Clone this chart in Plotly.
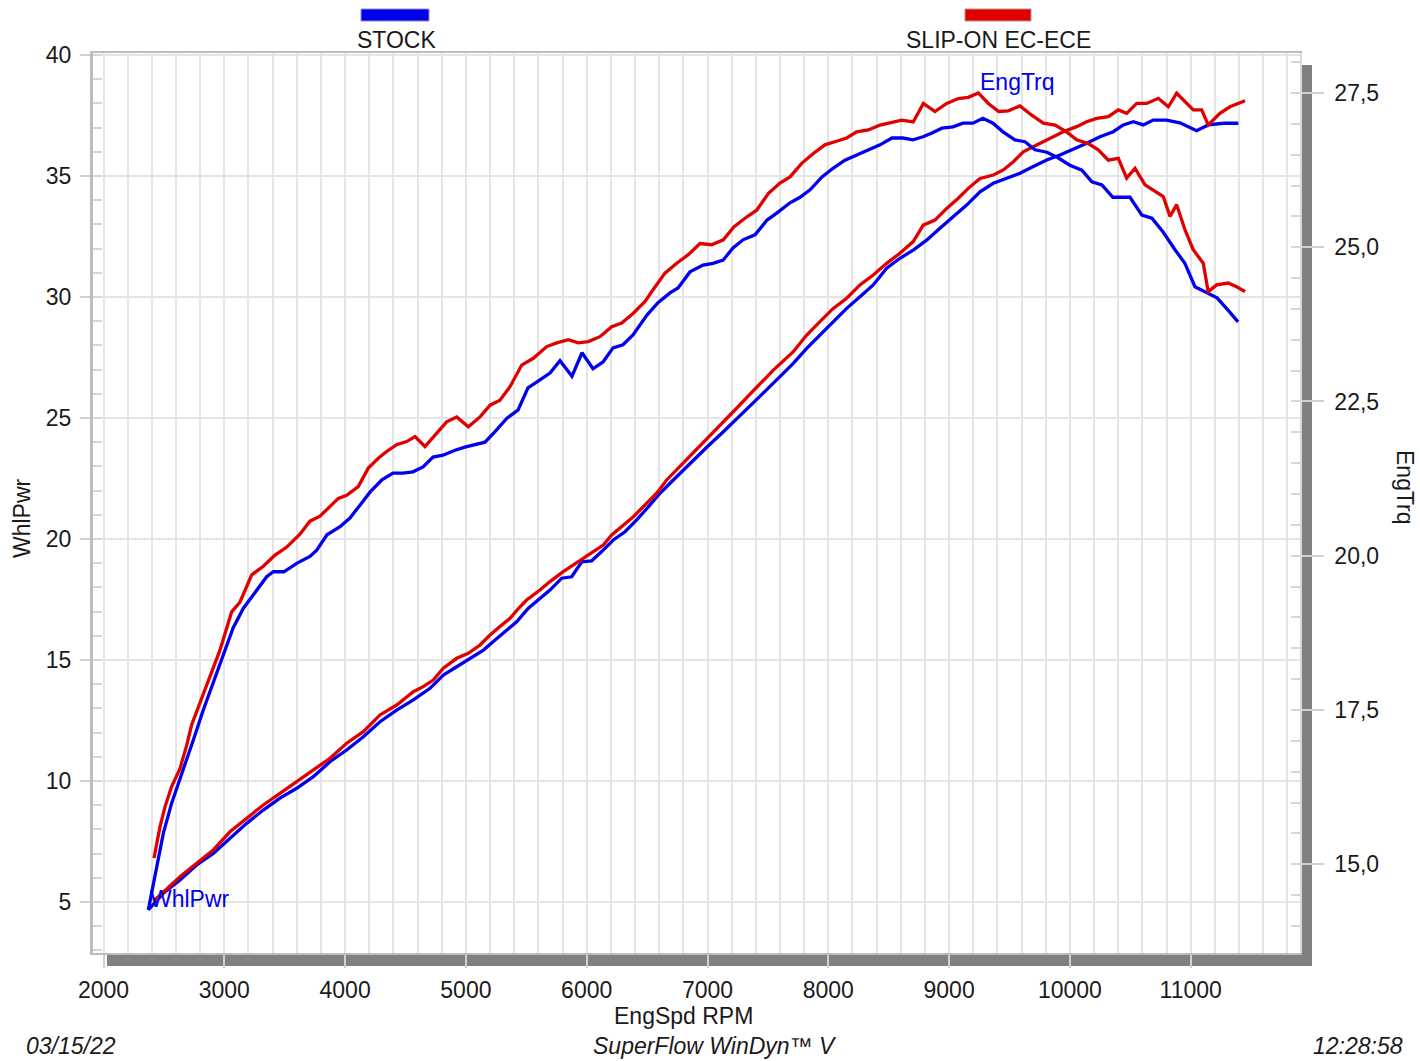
import plotly.graph_objects as go

# ---------------- data ----------------
RPM_TRQ_STOCK = [2371, 2440, 2495, 2564, 2633, 2689, 2743, 2826, 2909, 2990, 3073, 3158, 3240, 3351, 3406, 3493,
                 3603, 3709, 3765, 3850, 3958, 4040, 4123, 4206, 4305, 4396, 4479, 4562, 4645, 4728, 4810, 4910,
                 4992, 5075, 5158, 5241, 5340, 5431, 5514, 5613, 5696, 5779, 5878, 5961, 6052, 6135, 6218, 6300,
                 6383, 6499, 6590, 6690, 6756, 6855, 6963, 7046, 7129, 7211, 7294, 7393, 7493, 7584, 7683, 7766,
                 7849, 7948, 8039, 8138, 8238, 8329, 8428, 8527, 8618, 8701, 8784, 8858, 8941, 9032, 9115, 9197,
                 9280, 9363, 9446, 9545, 9628, 9711, 9810, 9901, 10000, 10099, 10182, 10265, 10356, 10497, 10596,
                 10679, 10770, 10870, 10952, 11035, 11135, 11218, 11309, 11392]
TRQ_STOCK = [14.26, 14.96, 15.50, 15.99, 16.37, 16.69, 17.01, 17.50, 17.96, 18.39, 18.83, 19.15, 19.36, 19.66, 19.74, 19.74,
             19.88, 19.99, 20.09, 20.34, 20.47, 20.61, 20.82, 21.03, 21.23, 21.34, 21.34, 21.36, 21.44, 21.60, 21.63, 21.71,
             21.76, 21.80, 21.84, 22.01, 22.23, 22.36, 22.72, 22.85, 22.96, 23.16, 22.91, 23.29, 23.03, 23.14, 23.37, 23.42,
             23.58, 23.90, 24.10, 24.26, 24.34, 24.60, 24.71, 24.74, 24.79, 24.99, 25.12, 25.20, 25.44, 25.57, 25.72, 25.81,
             25.93, 26.14, 26.28, 26.41, 26.50, 26.58, 26.66, 26.77, 26.77, 26.74, 26.79, 26.85, 26.93, 26.95, 27.01, 27.01,
             27.09, 27.01, 26.87, 26.74, 26.71, 26.58, 26.54, 26.45, 26.33, 26.25, 26.06, 26.01, 25.81, 25.81, 25.52,
             25.47, 25.25, 24.96, 24.74, 24.36, 24.26, 24.18, 23.98, 23.79]

RPM_TRQ_SLIP = [2418, 2468, 2509, 2564, 2633, 2689, 2730, 2799, 2882, 2964, 3061, 3130, 3227, 3323, 3420, 3517,
                3626, 3709, 3792, 3861, 3944, 4013, 4109, 4192, 4275, 4344, 4427, 4510, 4579, 4661, 4744, 4841,
                4924, 5020, 5117, 5200, 5282, 5365, 5462, 5558, 5669, 5752, 5848, 5930, 6013, 6110, 6207, 6290,
                6386, 6483, 6549, 6648, 6745, 6841, 6938, 7034, 7131, 7218, 7310, 7407, 7503, 7600, 7683, 7780,
                7876, 7972, 8055, 8152, 8235, 8331, 8428, 8525, 8608, 8703, 8787, 8883, 8980, 9076, 9159, 9242,
                9325, 9411, 9490, 9587, 9684, 9780, 9877, 9973, 10056, 10152, 10235, 10318, 10401, 10470, 10539,
                10622, 10704, 10773, 10829, 10884, 10953, 11021, 11104, 11145, 11215, 11310, 11380, 11450]
TRQ_SLIP = [15.10, 15.61, 15.93, 16.26, 16.55, 16.93, 17.26, 17.61, 18.04, 18.47, 19.09, 19.25, 19.69, 19.83, 20.01, 20.14,
            20.35, 20.56, 20.64, 20.77, 20.93, 20.98, 21.12, 21.42, 21.58, 21.69, 21.80, 21.85, 21.93, 21.77, 21.96, 22.17,
            22.25, 22.09, 22.25, 22.44, 22.52, 22.74, 23.09, 23.20, 23.39, 23.45, 23.50, 23.45, 23.47, 23.55, 23.71, 23.77,
            23.93, 24.12, 24.31, 24.58, 24.74, 24.88, 25.06, 25.04, 25.12, 25.33, 25.47, 25.60, 25.87, 26.04, 26.14, 26.36,
            26.52, 26.66, 26.71, 26.77, 26.87, 26.90, 26.98, 27.03, 27.06, 27.03, 27.33, 27.20, 27.33, 27.41, 27.43, 27.50,
            27.33, 27.20, 27.21, 27.29, 27.14, 27.01, 26.98, 26.87, 26.74, 26.68, 26.58, 26.41, 26.44, 26.12, 26.28,
            26.01, 25.90, 25.82, 25.50, 25.69, 25.28, 24.96, 24.74, 24.28, 24.39, 24.42, 24.36, 24.28]

RPM_PWR_STOCK = [2371, 2495, 2633, 2771, 2909, 3047, 3185, 3323, 3461, 3599, 3737, 3875, 4013, 4151, 4289, 4427,
                 4565, 4703, 4813, 4924, 5034, 5145, 5227, 5310, 5420, 5517, 5613, 5696, 5793, 5876, 5959, 6041,
                 6124, 6220, 6317, 6414, 6510, 6607, 6717, 6855, 6996, 7129, 7269, 7410, 7600, 7710, 7821, 7931,
                 8041, 8152, 8262, 8372, 8483, 8593, 8703, 8814, 8924, 9039, 9145, 9256, 9366, 9477, 9587, 9697,
                 9808, 9918, 10028, 10139, 10249, 10359, 10442, 10525, 10607, 10690, 10801, 10911, 11049, 11145,
                 11270, 11394]
PWR_STOCK = [4.67, 5.36, 5.91, 6.53, 7.01, 7.63, 8.25, 8.80, 9.29, 9.70, 10.18, 10.80, 11.28, 11.83, 12.45, 12.93,
             13.35, 13.83, 14.38, 14.72, 15.07, 15.41, 15.76, 16.10, 16.58, 17.14, 17.55, 17.89, 18.38, 18.44, 19.06, 19.10,
             19.48, 19.96, 20.30, 20.79, 21.33, 21.89, 22.44, 23.12, 23.80, 24.42, 25.12, 25.78, 26.71, 27.26, 27.88, 28.43,
             28.98, 29.53, 30.01, 30.50, 31.19, 31.60, 31.94, 32.35, 32.84, 33.32, 33.80, 34.35, 34.70, 34.91, 35.11, 35.39,
             35.66, 35.87, 36.10, 36.35, 36.62, 36.83, 37.11, 37.24, 37.11, 37.31, 37.31, 37.20, 36.87, 37.11,
             37.18, 37.18]

RPM_PWR_SLIP = [2418, 2633, 2771, 2909, 3047, 3185, 3323, 3461, 3599, 3737, 3875, 4013, 4151, 4289, 4427, 4565,
                4647, 4730, 4813, 4924, 5020, 5117, 5200, 5282, 5365, 5448, 5503, 5613, 5696, 5806, 5889, 5972,
                6055, 6137, 6207, 6290, 6386, 6483, 6579, 6662, 6797, 6938, 7078, 7227, 7368, 7545, 7710, 7821,
                7931, 8041, 8152, 8262, 8372, 8483, 8593, 8703, 8786, 8883, 8980, 9076, 9159, 9256, 9366, 9449,
                9532, 9614, 9725, 9835, 9945, 10056, 10139, 10222, 10318, 10401, 10470, 10553, 10636, 10732,
                10815, 10884, 10967, 11021, 11091, 11145, 11242, 11325, 11450]
PWR_SLIP = [5.05, 6.04, 6.60, 7.15, 7.90, 8.46, 9.01, 9.49, 9.97, 10.45, 10.94, 11.56, 12.04, 12.73, 13.14, 13.69,
            13.90, 14.17, 14.66, 15.07, 15.28, 15.62, 16.03, 16.38, 16.72, 17.20, 17.48, 17.89, 18.24, 18.65, 18.93, 19.20,
            19.47, 19.75, 20.17, 20.51, 20.92, 21.41, 21.89, 22.44, 23.12, 23.84, 24.57, 25.33, 26.07, 26.98, 27.74, 28.43,
            28.98, 29.53, 29.95, 30.50, 30.91, 31.39, 31.81, 32.29, 32.97, 33.18, 33.66, 34.08, 34.49, 34.90, 35.04, 35.25,
            35.59, 36.00, 36.28, 36.56, 36.83, 37.04, 37.24, 37.38, 37.45, 37.73, 37.59, 38.00, 38.00, 38.21,
            37.86, 38.42, 38.00, 37.73, 37.73, 37.11, 37.59, 37.86, 38.11]

SERIES_NAMES = ["STOCK", "SLIP-ON EC-ECE"]
X_TICKS = [2000, 3000, 4000, 5000, 6000, 7000, 8000, 9000, 10000, 11000]
X_TICK_TEXT = ["2000", "3000", "4000", "5000", "6000", "7000", "8000", "9000", "10000", "11000"]
PWR_TICKS = [5, 10, 15, 20, 25, 30, 35, 40]
TRQ_TICKS = [15.0, 17.5, 20.0, 22.5, 25.0, 27.5]
TRQ_TICK_TEXT = ["15,0", "17,5", "20,0", "22,5", "25,0", "27,5"]

# ---------------- styling ----------------
BLUE = "#0000EE"
RED = "#E00000"
GRID = "#E5E5E5"
TICKC = "#D0D0D0"
FONT = "Liberation Sans, Arial, sans-serif"
TXT = "#1A1A1A"
FS = 23

W, H = 1420, 1061
L, R, T, B = 93, 1300, 53, 953


def px(x):
    return (x - L) / (R - L)


def py(y):
    return (B - y) / (B - T)


fig = go.Figure()
line_w = 3.3
fig.add_trace(go.Scatter(x=RPM_PWR_STOCK, y=PWR_STOCK, mode="lines", line=dict(color=BLUE, width=line_w),
                         name="WhlPwr " + SERIES_NAMES[0], yaxis="y"))
fig.add_trace(go.Scatter(x=RPM_PWR_SLIP, y=PWR_SLIP, mode="lines", line=dict(color=RED, width=line_w),
                         name="WhlPwr " + SERIES_NAMES[1], yaxis="y"))
fig.add_trace(go.Scatter(x=RPM_TRQ_STOCK, y=TRQ_STOCK, mode="lines", line=dict(color=BLUE, width=line_w),
                         name="EngTrq " + SERIES_NAMES[0], yaxis="y2"))
fig.add_trace(go.Scatter(x=RPM_TRQ_SLIP, y=TRQ_SLIP, mode="lines", line=dict(color=RED, width=line_w),
                         name="EngTrq " + SERIES_NAMES[1], yaxis="y2"))

tickfont = dict(family=FONT, size=FS, color=TXT)

shapes = [
    # 3D shadow bars (bottom and right)
    dict(type="rect", xref="paper", yref="paper", x0=px(107), x1=px(1312), y0=py(966), y1=py(953),
         fillcolor="#808080", line=dict(width=0), layer="below"),
    dict(type="rect", xref="paper", yref="paper", x0=px(1300), x1=px(1312), y0=py(966), y1=py(65),
         fillcolor="#808080", line=dict(width=0), layer="below"),
    # legend swatches
    dict(type="rect", xref="paper", yref="paper", x0=px(361), x1=px(429), y0=py(21), y1=py(9),
         fillcolor=BLUE, line=dict(width=1, color="#9090c0")),
    dict(type="rect", xref="paper", yref="paper", x0=px(965), x1=px(1031), y0=py(21), y1=py(9),
         fillcolor=RED, line=dict(width=1, color="#c09090")),
]


def ann(text, x, y, size=FS, color=TXT, angle=0, italic=False, xanchor="center"):
    return dict(text=text, xref="paper", yref="paper", x=px(x), y=py(y), showarrow=False,
                xanchor=xanchor, yanchor="middle", textangle=angle,
                font=dict(family=FONT, size=size, color=color, style="italic" if italic else "normal"))


annotations = [
    ann(SERIES_NAMES[0], 396, 40),
    ann(SERIES_NAMES[1], 998, 40),
    ann("EngTrq", 1017, 82, color=BLUE),
    ann("WhlPwr", 190, 899, color=BLUE),
    ann("WhlPwr", 22, 518, angle=-90),
    ann("EngTrq", 1405, 487, angle=90),
    ann("EngSpd RPM", 683, 1016),
    ann("03/15/22", 71, 1046, italic=True),
    ann("SuperFlow WinDyn™ V", 715, 1046, italic=True),
    ann("12:28:58", 1358, 1046, italic=True),
]

fig.update_layout(
    width=W, height=H,
    margin=dict(l=L, r=W - R, t=T, b=H - B, pad=0),
    paper_bgcolor="white", plot_bgcolor="white",
    showlegend=False,
    font=dict(family=FONT, color=TXT),
    shapes=shapes, annotations=annotations,
    xaxis=dict(
        range=[2000 + (L - 103.5) / 0.1208, 2000 + (R - 103.5) / 0.1208],
        tickmode="array", tickvals=X_TICKS, ticktext=X_TICK_TEXT,
        ticks="outside", ticklen=13, tickcolor=TICKC, tickwidth=1.5,
        showgrid=True, gridcolor=GRID, gridwidth=1.5,
        minor=dict(tick0=2000, dtick=200, showgrid=True, gridcolor=GRID, gridwidth=1.5, ticks=""),
        showline=True, linecolor="#BDBDBD", linewidth=2, mirror=True,
        tickfont=tickfont, ticklabelstandoff=2, zeroline=False,
    ),
    yaxis=dict(
        range=[42.273 - B / 24.2, 42.273 - T / 24.2],
        tickmode="array", tickvals=PWR_TICKS,
        ticks="outside", ticklen=10, tickcolor=TICKC, tickwidth=1.5,
        showgrid=True, gridcolor=GRID, gridwidth=1.5,
        minor=dict(tick0=0, dtick=1, ticks="inside", ticklen=9, tickcolor="#D6D6D6", showgrid=False),
        showline=True, linecolor="#BDBDBD", linewidth=3, mirror=False,
        tickfont=tickfont, ticklabelstandoff=4, zeroline=False,
    ),
    yaxis2=dict(
        overlaying="y", side="right",
        range=[29.007 - B / 61.7, 29.007 - T / 61.7],
        tickmode="array", tickvals=TRQ_TICKS, ticktext=TRQ_TICK_TEXT,
        ticks="outside", ticklen=22, tickcolor=TICKC, tickwidth=1.5,
        showgrid=False,
        minor=dict(tick0=15, dtick=0.5, ticks="inside", ticklen=9, tickcolor="#D6D6D6", showgrid=False),
        showline=True, linecolor="#D8D8D8", linewidth=1.5,
        tickfont=tickfont, ticklabelstandoff=6, zeroline=False,
    ),
)

fig.write_html("out.html", config={"displayModeBar": False},
               post_script="document.body.style.margin='0';")
